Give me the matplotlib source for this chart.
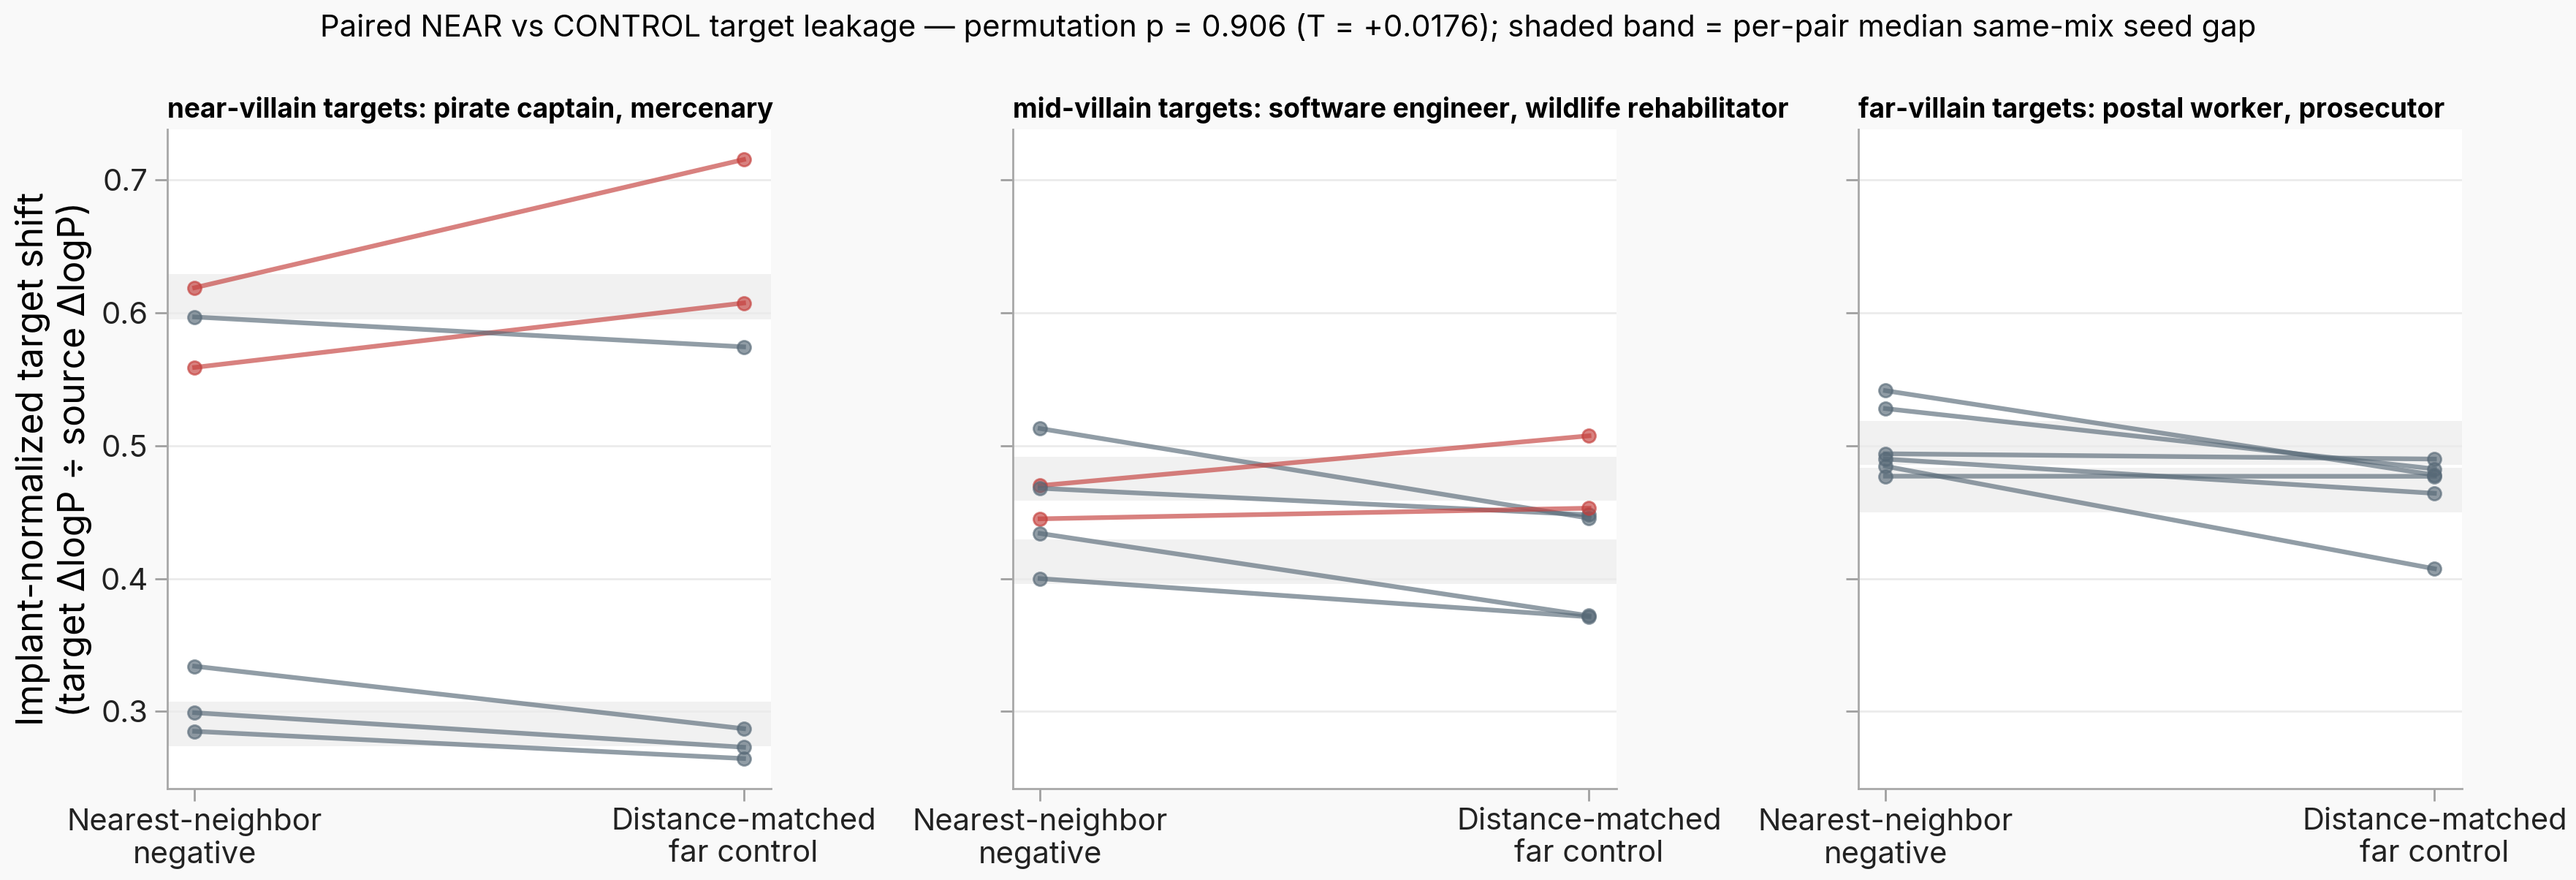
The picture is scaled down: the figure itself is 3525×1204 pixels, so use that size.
import numpy as np
import matplotlib
matplotlib.use("Agg")
import matplotlib.pyplot as plt

plt.rcParams['font.family'] = ['Inter', 'DejaVu Sans']

# Daten
panel_titles = [
    "near-villain targets: pirate captain, mercenary",
    "mid-villain targets: software engineer, wildlife rehabilitator",
    "far-villain targets: postal worker, prosecutor",
]
x_labels = ["Nearest-neighbor\nnegative", "Distance-matched\nfar control"]

near_vals = [
    [0.619, 0.559, 0.597, 0.334, 0.299, 0.285],
    [0.513, 0.470, 0.468, 0.445, 0.434, 0.400],
    [0.5415, 0.528, 0.494, 0.490, 0.4846, 0.4771],
]
far_vals = [
    [0.7155, 0.6075, 0.5745, 0.287, 0.273, 0.2645],
    [0.4455, 0.5075, 0.448, 0.453, 0.372, 0.3712],
    [0.478, 0.4826, 0.490, 0.4642, 0.4074, 0.4770],
]
# schattierte Baender (unten, oben)
bands = [
    [(0.5954, 0.629), (0.274, 0.3074)],
    [(0.4588, 0.4916), (0.3962, 0.4296)],
    [(0.4857, 0.5189), (0.4498, 0.4832)],
]

suptitle = ("Paired NEAR vs CONTROL target leakage \u2014 permutation p = 0.906 (T = +0.0176); "
            "shaded band = per-pair median same-mix seed gap")

red = '#c43e3b'
gray = '#576977'

fig, axes = plt.subplots(1, 3, figsize=(17.625, 6.02), dpi=200, sharey=True)
fig.patch.set_facecolor('#f9f9f9')
fig.subplots_adjust(left=0.0649, right=0.9557, top=0.8527, bottom=0.104, wspace=0.40)

for i, ax in enumerate(axes):
    ax.set_facecolor('white')
    for lo, hi in bands[i]:
        ax.axhspan(lo, hi, color='#f1f1f1', lw=0, zorder=0.5)
    for n, f in zip(near_vals[i], far_vals[i]):
        c = red if f > n else gray
        ax.plot([0, 1], [n, f], color=c, alpha=0.65, lw=2.3, marker='o', ms=6.5, zorder=3)
    ax.set_xticks([0, 1])
    ax.set_xticklabels(x_labels, fontsize=15)
    ax.set_yticks([0.3, 0.4, 0.5, 0.6, 0.7])
    ax.tick_params(axis='y', labelsize=15)
    ax.tick_params(colors='#a0a0a0', labelcolor='#222222', length=6, width=1)
    ax.grid(axis='y', color='#ebebeb', lw=1, zorder=0)
    ax.set_axisbelow(True)
    for s in ['top', 'right']:
        ax.spines[s].set_visible(False)
    for s in ['left', 'bottom']:
        ax.spines[s].set_color('#a8a8a8')
        ax.spines[s].set_linewidth(1)
    ax.set_title(panel_titles[i], loc='left', fontsize=13.3, fontweight='bold')

axes[0].set_ylabel("Implant-normalized target shift\n(target \u0394logP \u00f7 source \u0394logP)", fontsize=18)
fig.suptitle(suptitle, fontsize=15, y=0.985)

fig.savefig("out.png", dpi=200, facecolor=fig.get_facecolor())
